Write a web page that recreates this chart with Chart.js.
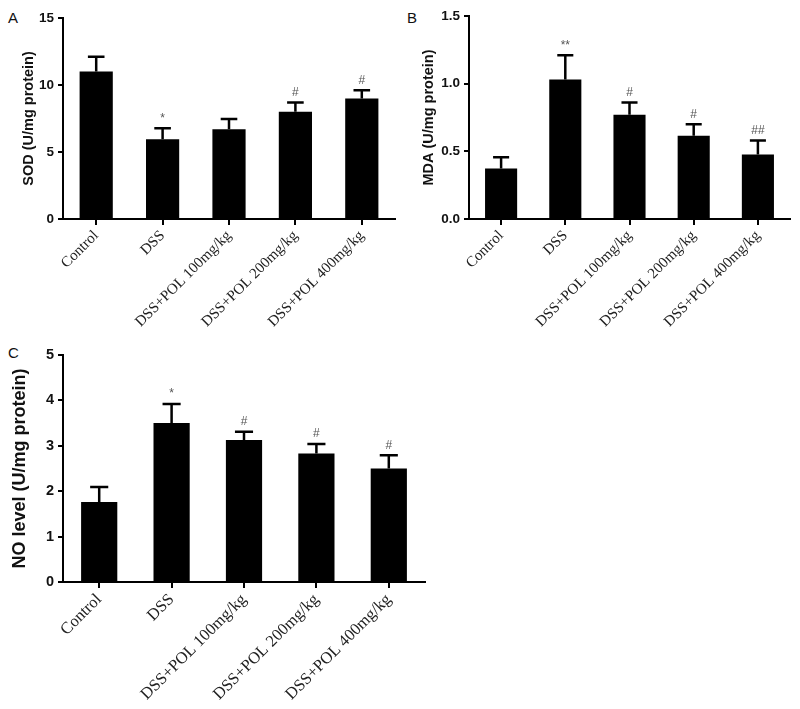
<!DOCTYPE html>
<html>
<head>
<meta charset="utf-8">
<script src="https://cdn.jsdelivr.net/npm/chart.js@4/dist/chart.umd.min.js"></script>
<style>
  body { margin: 0; background: #fff; }
  #page { position: relative; width: 800px; height: 709px; overflow: hidden; }
  #page canvas { position: absolute; }
  .letter { position: absolute; font: 15px "Liberation Sans", Arial, sans-serif; line-height: 15px; color: #111; }
</style>
</head>
<body>
<div id="page">
  <div class="letter" style="left:8px; top:10px;">A</div>
  <div class="letter" style="left:407px; top:10px;">B</div>
  <div class="letter" style="left:8px; top:345px;">C</div>
  <canvas id="chartA" width="400" height="330" style="left:0; top:0;"></canvas>
  <canvas id="chartB" width="400" height="330" style="left:400px; top:0;"></canvas>
  <canvas id="chartC" width="440" height="379" style="left:0; top:330px;"></canvas>
</div>
<script>
var groups = ['Control', 'DSS', 'DSS+POL 100mg/kg', 'DSS+POL 200mg/kg', 'DSS+POL 400mg/kg'];

// A: SOD (U/mg protein)
var sodMean = [11.0, 5.95, 6.7, 8.0, 9.0];
var sodSd = [1.1, 0.82, 0.76, 0.7, 0.6];
var sodMarks = ['', '*', '', '#', '#'];
var sodTicks = [0, 5, 10, 15];

// B: MDA (U/mg protein)
var mdaMean = [0.373, 1.03, 0.77, 0.615, 0.477];
var mdaSd = [0.084, 0.18, 0.09, 0.085, 0.103];
var mdaMarks = ['', '**', '#', '#', '##'];
var mdaTicks = [0, 0.5, 1.0, 1.5];

// C: NO level (U/mg protein)
var noMean = [1.76, 3.50, 3.13, 2.83, 2.50];
var noSd = [0.33, 0.42, 0.18, 0.21, 0.29];
var noMarks = ['', '*', '#', '#', '#'];
var noTicks = [0, 1, 2, 3, 4, 5];

// draws the upper error bar and the significance mark over each bar
var errorBarPlugin = {
    id: 'errorBars',
    afterDatasetsDraw: function (chart, args, opts) {
        var ctx = chart.ctx;
        var yScale = chart.scales.y;
        var meta = chart.getDatasetMeta(0);
        var means = chart.data.datasets[0].data;
        ctx.save();
        for (var i = 0; i < means.length; i++) {
            var bar = meta.data[i];
            var yBase = yScale.getPixelForValue(means[i]);
            var yTop = yScale.getPixelForValue(means[i] + opts.sd[i]);
            var half = bar.width / 4;
            ctx.strokeStyle = '#000';
            ctx.lineWidth = 2.5;
            ctx.beginPath();
            ctx.moveTo(bar.x, yBase);
            ctx.lineTo(bar.x, yTop);
            ctx.moveTo(bar.x - half, yTop);
            ctx.lineTo(bar.x + half, yTop);
            ctx.stroke();
            if (opts.marks[i]) {
                ctx.fillStyle = '#555';
                ctx.font = '12px "Liberation Sans", Arial, sans-serif';
                ctx.textAlign = 'center';
                ctx.textBaseline = 'middle';
                ctx.fillText(opts.marks[i], bar.x, yTop - 10);
            }
        }
        ctx.restore();
    }
};

function makeChart(id, cfg) {
    var ctx = document.getElementById(id);
    return new Chart(ctx, {
        type: 'bar',
        data: {
            labels: groups,
            datasets: [{
                data: cfg.mean,
                backgroundColor: '#000',
                borderWidth: 0,
                barPercentage: 1,
                categoryPercentage: 0.5
            }]
        },
        options: {
            responsive: false,
            animation: false,
            layout: { padding: cfg.padding },
            plugins: {
                legend: { display: false },
                tooltip: { enabled: false },
                errorBars: { sd: cfg.sd, marks: cfg.marks }
            },
            scales: {
                x: {
                    grid: { display: true, drawOnChartArea: false, drawTicks: true, tickLength: 6, offset: false, color: '#000', lineWidth: 2 },
                    border: { display: true, color: '#000', width: 2 },
                    ticks: {
                        minRotation: 45, maxRotation: 45, autoSkip: false,
                        color: '#222', padding: 2,
                        font: { family: '"Liberation Serif", "Times New Roman", serif', size: cfg.labelSize }
                    },
                    afterFit: function (scale) { scale.height = cfg.xHeight; }
                },
                y: {
                    min: cfg.ticks[0],
                    max: cfg.ticks[cfg.ticks.length - 1],
                    afterBuildTicks: function (scale) {
                        scale.ticks = cfg.ticks.map(function (v) { return { value: v }; });
                    },
                    grid: { display: true, drawOnChartArea: false, drawTicks: true, tickLength: 5, color: '#000', lineWidth: 2 },
                    border: { display: true, color: '#000', width: 2 },
                    ticks: {
                        color: '#111', padding: 4,
                        font: { family: '"Liberation Sans", Arial, sans-serif', size: cfg.tickSize, weight: 'bold' },
                        callback: function (v) { return cfg.decimals ? Number(v).toFixed(cfg.decimals) : v; }
                    },
                    title: {
                        display: true,
                        text: cfg.title,
                        color: '#111',
                        font: { family: '"Liberation Sans", Arial, sans-serif', size: cfg.titleSize, weight: 'bold' },
                        padding: { top: cfg.titlePad, bottom: 0 }
                    },
                    afterFit: function (scale) { scale.width = cfg.yWidth; }
                }
            }
        },
        plugins: [errorBarPlugin]
    });
}

makeChart('chartA', {
    mean: sodMean, sd: sodSd, marks: sodMarks, ticks: sodTicks, decimals: 0,
    title: 'SOD (U/mg protein)', titleSize: 14.5, titlePad: 20, tickSize: 13.5, labelSize: 15,
    padding: { top: 18, right: 5, left: 0, bottom: 0 }, yWidth: 63, xHeight: 111
});

makeChart('chartB', {
    mean: mdaMean, sd: mdaSd, marks: mdaMarks, ticks: mdaTicks, decimals: 1,
    title: 'MDA (U/mg protein)', titleSize: 14.5, titlePad: 20, tickSize: 13.5, labelSize: 15,
    padding: { top: 16, right: 10, left: 0, bottom: 0 }, yWidth: 69, xHeight: 111
});

makeChart('chartC', {
    mean: noMean, sd: noSd, marks: noMarks, ticks: noTicks, decimals: 0,
    title: 'NO level (U/mg protein)', titleSize: 18, titlePad: 9.7, tickSize: 14.5, labelSize: 16.5,
    padding: { top: 25, right: 15, left: 0, bottom: 0 }, yWidth: 63, xHeight: 127
});
</script>
</body>
</html>
